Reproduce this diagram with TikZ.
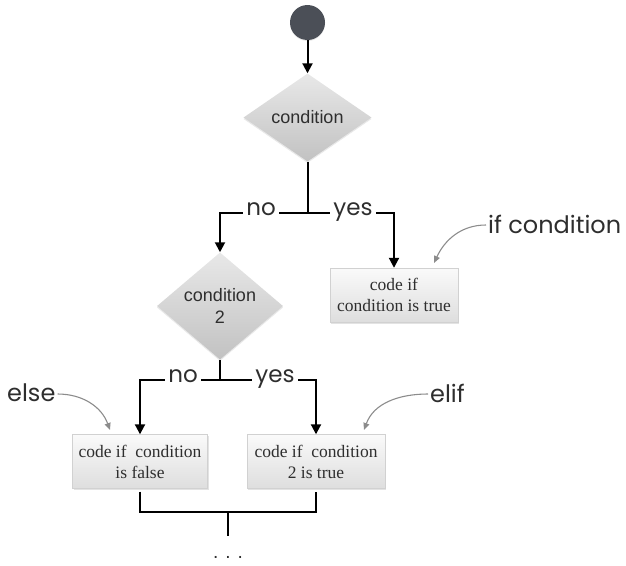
\documentclass[tikz,border=0pt]{standalone}
\usepackage{fontspec}
\newfontfamily\diafont{Liberation Sans}
\newfontfamily\handfont{Poppins}
\newfontfamily\boxfont{Liberation Serif}
\usetikzlibrary{shapes.geometric,arrows.meta,shadows}
\definecolor{startgray}{HTML}{4B4F57}
\definecolor{inkgray}{HTML}{2E2E2E}
\definecolor{pointgray}{HTML}{8C8C8C}
\begin{document}
\begin{tikzpicture}[x=1pt,y=-1pt,
  flow/.style={draw=black, line width=2pt},
  arr/.style={flow, -{Triangle[length=10pt,width=10pt]}},
  decision/.style={diamond, minimum width=128pt, minimum height=88pt, inner sep=0pt,
    top color=black!9, bottom color=black!24, draw=none, align=center,
    text=inkgray, font=\diafont\fontsize{18}{22}\selectfont,
    drop shadow={shadow xshift=0pt, shadow yshift=-1.5pt, opacity=0.18}},
  codebox/.style={rectangle, inner sep=0pt, minimum height=54pt,
    top color=black!2, bottom color=black!13, draw=black!18, line width=0.4pt,
    align=center, text=inkgray, font=\boxfont\fontsize{17.5}{21}\selectfont,
    drop shadow={shadow xshift=1pt, shadow yshift=-1.5pt, opacity=0.22}},
  tag/.style={fill=white, inner sep=3pt, text=inkgray, text height=1ex, text depth=0pt,
    font=\handfont\fontsize{23}{26}\selectfont},
  note/.style={inner sep=0pt, text=inkgray, font=\handfont\fontsize{24}{27}\selectfont},
  pointer/.style={draw=pointgray, line width=1.1pt, -{Triangle[length=7pt,width=6pt]}}
]
\useasboundingbox (0,0) rectangle (626,565);

% nodes
\node (start) [circle, fill=startgray, minimum size=35pt, inner sep=0pt,
  drop shadow={shadow xshift=0pt, shadow yshift=-1pt, opacity=0.2}] at (307.5,22.5) {};
\node (cond1) [decision] at (307.5,117.5) {condition};
\node (cond2) [decision, minimum width=126pt] at (220,306) {condition\\2};
\node (box1) [codebox, minimum width=128pt] at (394,295) {code if\\condition is true};
\node (box2) [codebox, minimum width=135pt] at (140,461.5) {code if\ \ condition\\is false};
\node (box3) [codebox, minimum width=138pt] at (316,461.5) {code if\ \ condition\\2 is true};

% junction points
\coordinate (j1) at (307.5,213);
\coordinate (j2) at (220,380);
\coordinate (j3) at (228,512);
\coordinate (tail) at (228,536);

% connectors
\draw[arr] (start) -- (cond1);
\draw[flow] (cond1) -- (j1);
\draw[arr] (j1) -| (cond2);
\draw[arr] (j1) -| (box1);
\draw[flow] (cond2) -- (j2);
\draw[arr] (j2) -| (box2);
\draw[arr] (j2) -| (box3);
\draw[flow] ([yshift=-3pt]box2.south) |- (j3) -| ([yshift=-3pt]box3.south);
\draw[flow] (j3) -- (tail);

% branch labels
\node (no1) [tag] at (261,213) {no};
\node (yes1) [tag] at (353,213) {yes};
\node (no2) [tag] at (183,380) {no};
\node (yes2) [tag] at (275,380) {yes};

% annotations
\node (ifnote) [note, anchor=west] at (488,224) {if condition};
\node (elsenote) [note, anchor=west] at (7,393) {else};
\node (elifnote) [note, anchor=west] at (430,393) {elif};
\node (dots) [inner sep=0pt, text=inkgray, font=\diafont\fontsize{19}{22}\selectfont] at (228,557) {. . .};

\coordinate (ifend) at (434,263);
\coordinate (elseend) at (110,430);
\coordinate (elifend) at (364,430);
\draw[pointer] ([xshift=-2pt,yshift=-1pt]ifnote.west) to[out=180,in=65] (ifend);
\draw[pointer] ([xshift=2pt,yshift=-1pt]elsenote.east) to[out=0,in=110] (elseend);
\draw[pointer] ([xshift=-2pt,yshift=-1pt]elifnote.west) to[out=180,in=70] (elifend);
\end{tikzpicture}
\end{document}
